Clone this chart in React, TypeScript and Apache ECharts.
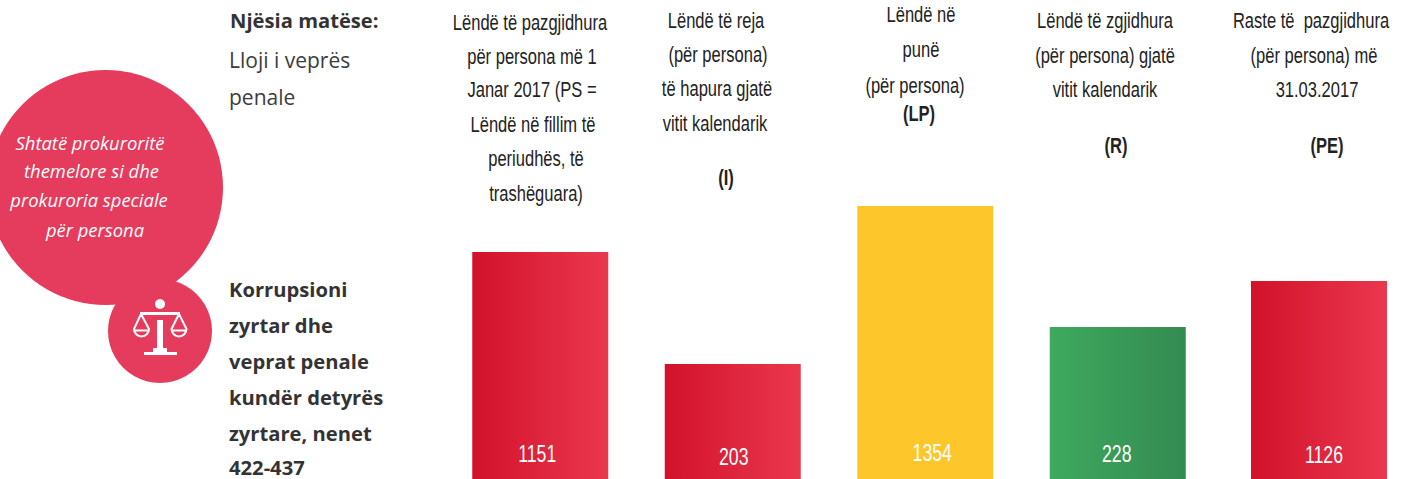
import React, { useEffect, useRef } from "react";
import * as echarts from "echarts";

const categories = ["PS", "I", "LP", "R", "PE"];
// Printed figures on the bars
const caseCounts = [1151, 203, 1354, 228, 1126];
// The bars in the source are not proportional to their printed figures, so their drawn levels are read separately
const barLevels = [227, 115, 273, 152, 198];
const barColors = [
  ["#D2122B", "#EA384E"],
  ["#D2122B", "#EA384E"],
  ["#FDC72C", "#FDC72C"],
  ["#3FA95F", "#348B52"],
  ["#D2122B", "#EA384E"],
];

const headerLines: string[][] = [
  ["Lëndë të pazgjidhura", "për persona më 1", "Janar 2017 (PS =", "Lëndë në fillim të", "periudhës, të", "trashëguara)"],
  ["Lëndë të reja", "(për persona)", "të hapura gjatë", "vitit kalendarik", "(I)"],
  ["Lëndë në", "punë", "(për persona)", "(LP)"],
  ["Lëndë të zgjidhura", "(për persona) gjatë", "vitit kalendarik", "(R)"],
  ["Raste të  pazgjidhura", "(për persona) më", "31.03.2017", "(PE)"],
];
const unitTitle = "Njësia matëse:";
const typeLines = ["Lloji i veprës", "penale"];
const offenceLines = ["Korrupsioni", "zyrtar dhe", "veprat penale", "kundër detyrës", "zyrtare, nenet", "422-437"];
const bubbleLines = ["Shtatë prokuroritë", "themelore si dhe", "prokuroria speciale", "për persona"];

const NARROW = '"Liberation Sans", sans-serif';
const SANS = '"Open Sans", sans-serif';
const PINK = "#E53B5C";
const NARROW_SCALE = 0.735;

const headerPos: [number, number][][] = [
  [[530, 22], [532, 56], [532, 89], [533, 124], [536, 158], [536, 193]],
  [[716, 20], [718, 54], [717, 88], [715, 123], [726, 177]],
  [[921, 14], [921, 49], [915, 85], [919, 113]],
  [[1105, 20], [1105, 55], [1105, 89], [1116, 145]],
  [[1311, 20], [1314, 55], [1317, 89], [1327, 145]],
];
const labelOffsets: [number, number][] = [[-3, 0], [1, 3], [7, -1], [-1, 0], [5, 1]];
const offenceY = [289, 325, 361, 397, 433, 467];
const bubblePos: [number, number][] = [[90, 142], [91.5, 170], [89, 199], [95, 229]];

const PAN_D =
  "M141 314 L134 329 A7.5 7.5 0 0 0 149 329 L141 314 Z M134 330.5 L149 330.5 " +
  "M179 314 L171.5 329 A7.5 7.5 0 0 0 186.5 329 L179 314 Z M171.5 330.5 L186.5 330.5";
echarts.graphic.registerShape("scalePans", echarts.graphic.extendPath(PAN_D, {}));

function barData(from: number, to: number) {
  return barLevels.slice(from, to).map((v, k) => {
    const i = from + k;
    return {
      value: v,
      itemStyle: {
        color: new echarts.graphic.LinearGradient(0, 0, 1, 0, [
          { offset: 0, color: barColors[i][0] },
          { offset: 1, color: barColors[i][1] },
        ]),
      },
    };
  });
}

function countSeries(from: number, to: number, axis: number) {
  return {
    type: "custom",
    xAxisIndex: axis,
    yAxisIndex: axis,
    clip: false,
    z: 5,
    data: barLevels.slice(from, to).map((v, k) => [k, v]),
    renderItem: (params: any, api: any) => {
      const p = api.coord([api.value(0), 0]);
      const i = from + params.dataIndex;
      const off = labelOffsets[i];
      return {
        type: "text",
        x: p[0] + off[0],
        y: p[1] - 25 + off[1],
        scaleX: 0.77,
        z2: 10,
        style: {
          text: String(caseCounts[i]),
          fill: "#fff",
          font: `23px ${NARROW}`,
          align: "center",
          verticalAlign: "middle",
        },
      };
    },
  };
}

function txt(text: string, x: number, y: number, font: any, scaleX = 1) {
  return {
    type: "text",
    x,
    y,
    scaleX,
    style: { text, verticalAlign: "middle", ...font },
  };
}

export default function App() {
  const ref = useRef<HTMLDivElement>(null);
  useEffect(() => {
    document.body.style.margin = "0";
    const chart = echarts.init(ref.current!, null, { renderer: "svg" });

    const graphics: any[] = [
      { type: "circle", shape: { cx: 105.5, cy: 187.5, r: 117.5 }, style: { fill: PINK } },
      { type: "circle", shape: { cx: 160, cy: 331, r: 52 }, style: { fill: PINK } },
      // scales icon
      { type: "circle", shape: { cx: 160, cy: 304, r: 5 }, style: { fill: "#fff" } },
      { type: "rect", shape: { x: 140, y: 312, width: 40, height: 3 }, style: { fill: "#fff" } },
      { type: "rect", shape: { x: 157, y: 320, width: 6, height: 30 }, style: { fill: "#fff" } },
      { type: "rect", shape: { x: 153, y: 348, width: 14, height: 4 }, style: { fill: "#fff" } },
      { type: "rect", shape: { x: 144, y: 352, width: 33, height: 3 }, style: { fill: "#fff" } },
      { type: "scalePans", style: { fill: "none", stroke: "#fff", lineWidth: 2 } },
    ];

    bubbleLines.forEach((t, i) =>
      graphics.push(
        txt(t, bubblePos[i][0], bubblePos[i][1], {
          fill: "#fff",
          font: `italic 18.4px ${SANS}`,
          align: "center",
        }),
      ),
    );
    graphics.push(txt(unitTitle, 230, 20, { fill: "#333", font: `bold 20.2px ${SANS}`, align: "left" }));
    typeLines.forEach((t, i) =>
      graphics.push(txt(t, 229, 60 + i * 36.5, { fill: "#3C3C3C", font: `21px ${SANS}`, align: "left" })),
    );
    offenceLines.forEach((t, i) =>
      graphics.push(txt(t, 229, offenceY[i], { fill: "#333", font: `bold 20.2px ${SANS}`, align: "left" })),
    );
    headerLines.forEach((lines, c) =>
      lines.forEach((t, i) => {
        const bold = t === "(I)" || t === "(LP)" || t === "(R)" || t === "(PE)";
        graphics.push(
          txt(
            t,
            headerPos[c][i][0],
            headerPos[c][i][1],
            {
              fill: "#222",
              font: `${bold ? "bold " : ""}22.5px ${NARROW}`,
              align: "center",
            },
            NARROW_SCALE,
          ),
        );
      }),
    );

    const hiddenY = { type: "value", min: 0, max: 479, show: false };
    chart.setOption({
      animation: false,
      backgroundColor: "#fff",
      grid: [
        { left: 444, top: 0, width: 770, height: 479 },
        { left: 1251, top: 0, width: 136, height: 479 },
      ],
      xAxis: [
        { type: "category", gridIndex: 0, data: categories.slice(0, 4), show: false },
        { type: "category", gridIndex: 1, data: categories.slice(4), show: false },
      ],
      yAxis: [
        { ...hiddenY, gridIndex: 0 },
        { ...hiddenY, gridIndex: 1 },
      ],
      series: [
        { type: "bar", xAxisIndex: 0, yAxisIndex: 0, barWidth: 136, data: barData(0, 4) },
        { type: "bar", xAxisIndex: 1, yAxisIndex: 1, barWidth: 136, data: barData(4, 5) },
        countSeries(0, 4, 0),
        countSeries(4, 5, 1),
      ],
      graphic: { elements: graphics },
    });
    return () => chart.dispose();
  }, []);
  return <div ref={ref} style={{ width: 1401, height: 479, overflow: "hidden" }} />;
}
